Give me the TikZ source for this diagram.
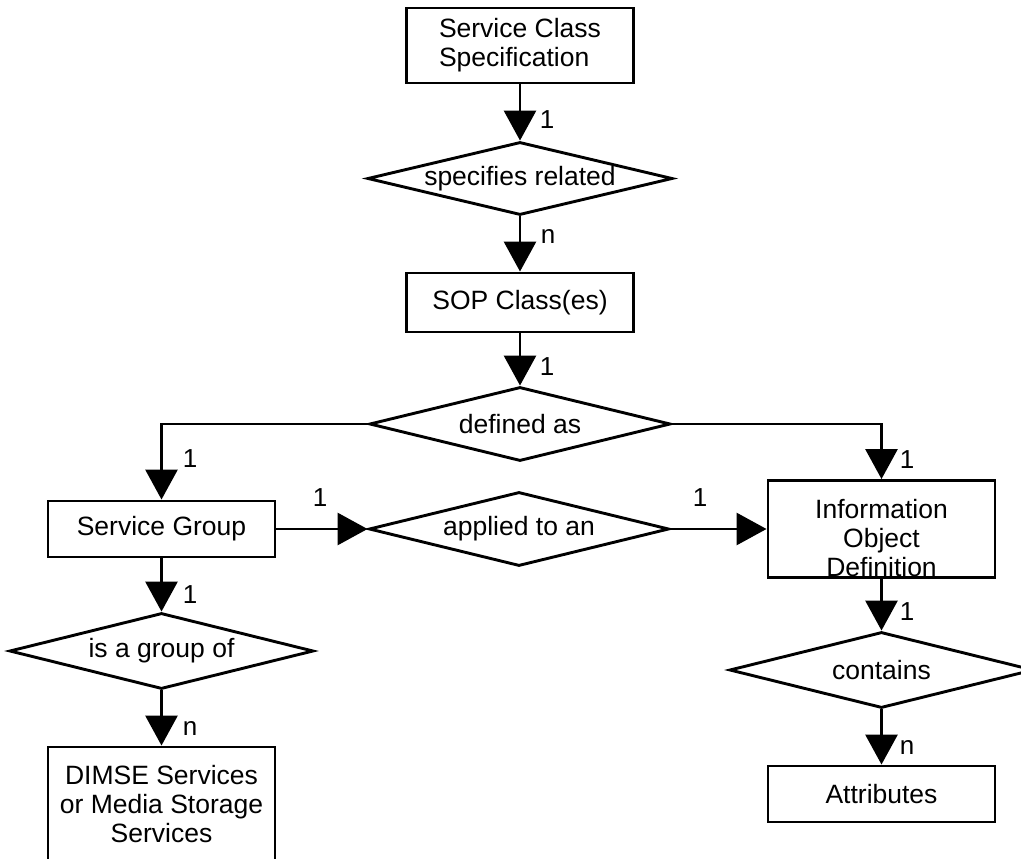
\documentclass[tikz,border=0pt]{standalone}
\usepackage{fontspec}
\setmainfont{Liberation Sans}
\usetikzlibrary{arrows.meta,shapes.geometric}
\tikzset{
  box/.style={draw, line width=2.9pt, minimum width=227pt, inner sep=0pt, font=\fontsize{26.5}{29}\selectfont, align=center},
  dia/.style={draw, diamond, line width=2.9pt, inner sep=0pt},
  txt/.style={inner sep=0pt, font=\fontsize{26.5}{29}\selectfont, align=center},
  lab/.style={inner sep=0pt, font=\fontsize{26}{28}\selectfont},
  arr/.style={line width=2.9pt, -{Triangle[length=30pt,width=32pt]}},
}
\begin{document}
\begin{tikzpicture}[x=1pt,y=-1pt]
\useasboundingbox (0,0) rectangle (1021,859);
% middle column
\node[box, minimum height=75pt, align=left] (scs) at (520,45.5) {Service Class\\Specification};
\node[dia, minimum width=305pt, minimum height=73pt] (spec) at (520,178.5) {};
\node[txt] (spect) at (spec) {specifies related};
\node[box, minimum height=59pt] (sop) at (520,302.5) {SOP Class(es)};
\node[dia, minimum width=301pt, minimum height=74pt] (def) at (520,424) {};
\node[txt] (deft) at (def) {defined as};
\node[dia, minimum width=300pt, minimum height=74pt] (app) at (519,529) {};
\node[txt] (appt) at (app) {applied to an};
% left column
\node[box, minimum height=56pt] (sg) at (161.5,529) {Service Group};
\node[dia, minimum width=304pt, minimum height=76pt] (grp) at (161.5,651) {};
\node[txt] (grpt) at (grp) {is a group of};
\node[box, minimum height=115pt] (dimse) at (161.5,804.5) {DIMSE Services\\or Media Storage\\Services};
% right column
\node[box, minimum height=97pt] (iod) at (881.5,529) {};
\node[txt] (iodt) at (881.5,538) {Information\\Object\\Definition};
\node[dia, minimum width=304pt, minimum height=76pt] (cont) at (881.5,670) {};
\node[txt] (contt) at (cont) {contains};
\node[box, minimum height=56pt] (attr) at (881.5,794) {Attributes};
% connectors
\draw[arr] (scs.south) -- (spec.north);
\draw[arr] (spec.south) -- (sop.north);
\draw[arr] (sop.south) -- (def.north);
\draw[arr] (def.west) -| (sg.north);
\draw[arr] (def.east) -| (iod.north);
\draw[arr] (sg.east) -- (app.west);
\draw[arr] (app.east) -- (iod.west);
\draw[arr] (sg.south) -- (grp.north);
\draw[arr] (grp.south) -- (dimse.north);
\draw[arr] (iod.south) -- (cont.north);
\draw[arr] (cont.south) -- (attr.north);
% cardinality labels
\node[lab] (l1) at (547,120) {1};
\node[lab] (l2) at (548,237) {n};
\node[lab] (l3) at (547,367) {1};
\node[lab] (l4) at (190,459) {1};
\node[lab] (l5) at (907,460) {1};
\node[lab] (l6) at (320,498) {1};
\node[lab] (l7) at (700,498) {1};
\node[lab] (l8) at (190,595) {1};
\node[lab] (l9) at (190,728) {n};
\node[lab] (l10) at (907,612) {1};
\node[lab] (l11) at (907,747) {n};
\end{tikzpicture}
\end{document}
